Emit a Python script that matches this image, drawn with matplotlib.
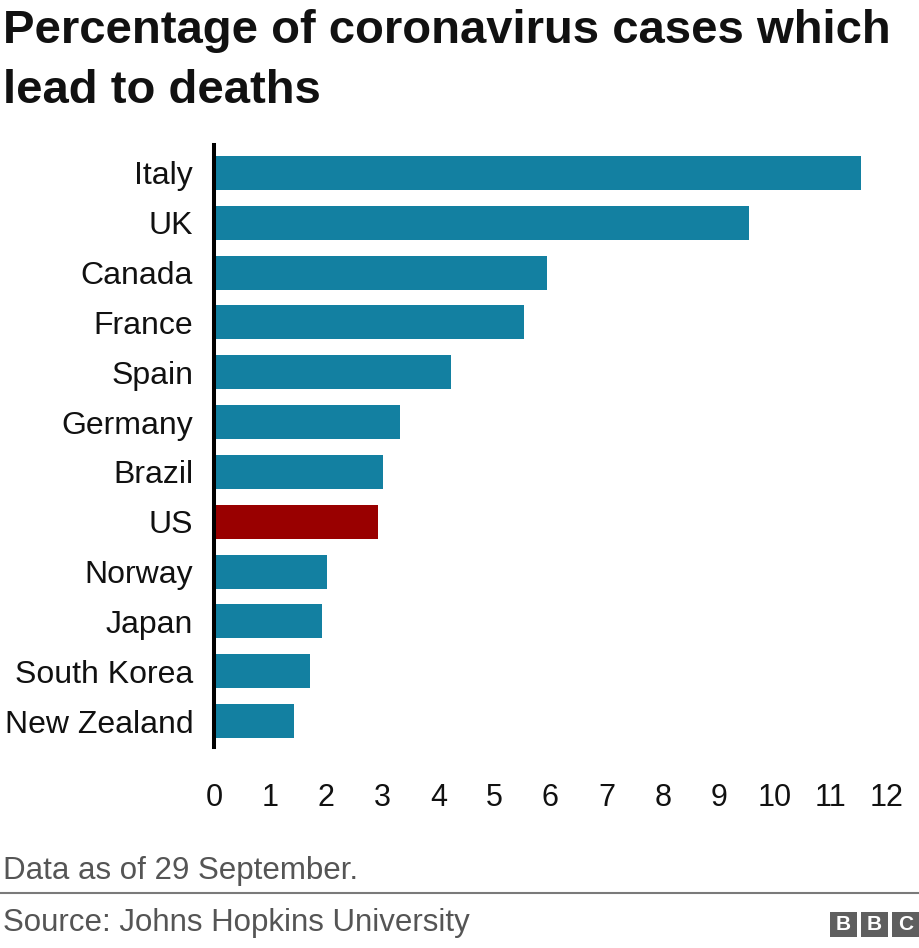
import matplotlib
matplotlib.use('Agg')
import matplotlib.pyplot as plt
from matplotlib.patches import Rectangle
from matplotlib.lines import Line2D

plt.rcParams['font.family'] = ['Liberation Sans', 'DejaVu Sans']

# data (% of cases leading to death)
countries = ['Italy', 'UK', 'Canada', 'France', 'Spain', 'Germany',
             'Brazil', 'US', 'Norway', 'Japan', 'South Korea', 'New Zealand']
rates = [11.54, 9.54, 5.94, 5.53, 4.22, 3.32,
         3.01, 2.92, 2.01, 1.93, 1.71, 1.43]
highlight = 'US'
xticks = list(range(0, 13))

W, H = 920, 948
fig = plt.figure(figsize=(W / 100, H / 100), dpi=100)

# axes box in pixels: x 214..887, y 145..747
ax = fig.add_axes([214 / W, 1 - 747 / H, (887 - 214) / W, (747 - 145) / H])

colors = ['#990000' if c == highlight else '#1380a1' for c in countries]
ax.barh(range(len(countries)), rates, height=0.68, color=colors, zorder=2)

ax.set_xlim(0, 12)
ax.set_ylim(len(countries) - 0.48, -0.56)
ax.set_yticks(range(len(countries)))
ax.set_yticklabels(countries, fontsize=23)
ax.set_xticks(xticks)
ax.set_xticklabels([str(t) for t in xticks], fontsize=22)
ax.tick_params(axis='both', length=0, colors='#111111')
ax.tick_params(axis='y', pad=15)
ax.tick_params(axis='x', pad=26)

for s in ['top', 'right', 'bottom']:
    ax.spines[s].set_visible(False)
ax.spines['left'].set_linewidth(2.9)
ax.spines['left'].set_color('black')
ax.spines['left'].set_zorder(3)

# title
fig.text(3 / W, 1 - 43 / H, 'Percentage of coronavirus cases which',
         fontsize=34, fontweight='bold', va='baseline', ha='left', color='#111111')
fig.text(3 / W, 1 - 103 / H, 'lead to deaths',
         fontsize=34, fontweight='bold', va='baseline', ha='left', color='#111111')

# footer
fig.text(3 / W, 1 - 879 / H, 'Data as of 29 September.', fontsize=22.5,
         va='baseline', ha='left', color='#555555')
fig.add_artist(Line2D([0, 1], [1 - 893 / H, 1 - 893 / H], color='#7a7a7a',
                      linewidth=1.5, transform=fig.transFigure))
fig.text(3 / W, 1 - 931 / H, 'Source: Johns Hopkins University', fontsize=22.5,
         va='baseline', ha='left', color='#555555')

# BBC blocks
for i, letter in enumerate('BBC'):
    x0 = 830 + i * 31
    fig.add_artist(Rectangle((x0 / W, 1 - 937 / H), 27 / W, 25 / H,
                             transform=fig.transFigure, color='#5f5f5f', lw=0))
    fig.text((x0 + 13.5) / W, 1 - 924.5 / H, letter, fontsize=15, fontweight='bold',
             color='white', ha='center', va='center')

fig.savefig('out.png', dpi=100)
